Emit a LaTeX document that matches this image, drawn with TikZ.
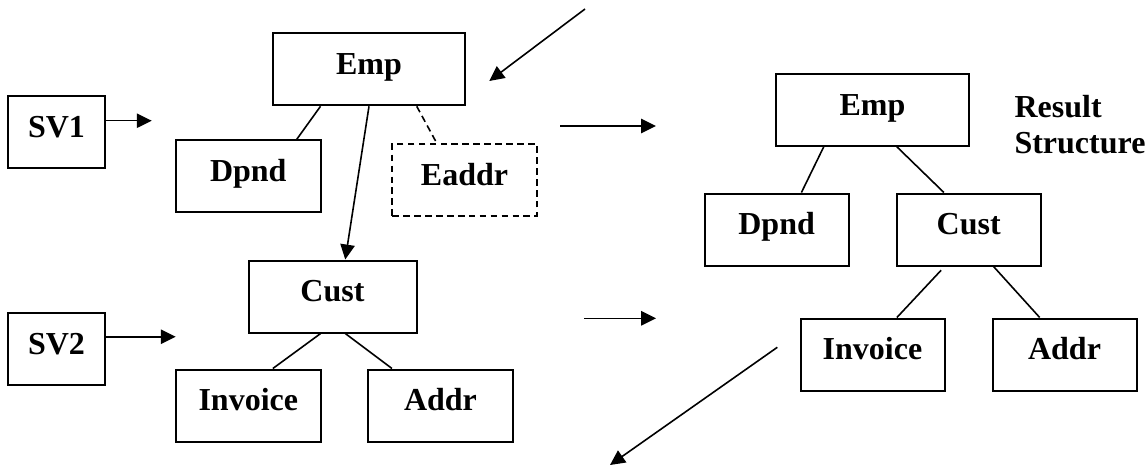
\documentclass[tikz,border=0pt]{standalone}
\usepackage{fontspec}
\setmainfont{Liberation Serif}
\usepackage{tikz}
\usetikzlibrary{arrows.meta,calc}
\newcommand\boxfont{\fontsize{12}{13.5}\selectfont\bfseries}
\tikzset{
  box/.style={draw,line width=0.75pt,minimum width=#1,minimum height=27pt,inner sep=0pt,text height=0.7em,text depth=0.3em,font=\boxfont},
  box/.default=54pt,
  dbox/.style={box=#1,dash pattern=on 2.5pt off 1.6pt},
  link/.style={line width=0.6pt},
  dlink/.style={link,dash pattern=on 2.5pt off 1.6pt},
  arrow/.style={-{Triangle[length=5.6pt,width=5.4pt]},line width=0.6pt},
  lbl/.style={font=\boxfont,align=left,inner sep=0pt},
}
\begin{document}
\begin{tikzpicture}[x=0.375pt,y=-0.375pt]
    \useasboundingbox (0,0) rectangle (1148,467);
    \node[box=36.4pt] (sv1) at (56.5,132) {SV1};
    \node[box=36.4pt] (sv2) at (56.5,349) {SV2};
    \node[box=72pt] (emp) at (369,69.3) {Emp};
    \node[box=54.4pt] (dpnd) at (248.3,176.2) {Dpnd};
    \node[dbox=54.2pt] (eaddr) at (464.5,180) {Eaddr};
    \node[box=63pt] (cust) at (332.5,296.5) {Cust};
    \node[box=54.4pt] (inv) at (248.3,405.5) {Invoice};
    \node[box=54.4pt] (addr) at (440.5,405.5) {Addr};
    % result structure
    \node[box=72.4pt] (remp) at (872.5,109.8) {Emp};
    \node[box] (rdpnd) at (776.6,229.5) {Dpnd};
    \node[box] (rcust) at (968.7,229.5) {Cust};
    \node[box] (rinv) at (872.5,354.5) {Invoice};
    \node[box] (raddr) at (1064.5,354.5) {Addr};
    \node[lbl,anchor=north west] (res) at (1014,94.5) {Result\\Structure};
    \foreach \a/\fa/\b/\fb in {emp/.25/dpnd/.83,cust/.43/inv/.667,cust/.575/addr/.17,remp/.25/rdpnd/.67,remp/.625/rcust/.33,rcust/.67/raddr/.33}
      \draw[link] ($(\a.south west)!\fa!(\a.south east)$) -- ($(\b.north west)!\fb!(\b.north east)$);
    \draw[link,shorten <=1.9pt] ($(rcust.south west)!.335!(rcust.south east)$) -- ($(rinv.north west)!.667!(rinv.north east)$);
    \draw[dlink] ($(emp.south west)!.746!(emp.south east)$) -- ($(eaddr.north west)!.31!(eaddr.north east)$);
    \draw[arrow] (emp.south) -- ($(cust.north west)!.575!(cust.north east)$);
    % free arrows
    \coordinate (sv1in) at (151.7,120.7);
    \coordinate (sv2in) at (175.7,336.7);
    \coordinate (topfrom) at (585,9);
    \coordinate (topto) at (489.3,81);
    \coordinate (midfrom) at (560,126);
    \coordinate (midto) at (656,126);
    \coordinate (lowfrom) at (584,318.3);
    \coordinate (lowto) at (656,318.3);
    \coordinate (botfrom) at (777.3,347.3);
    \coordinate (botto) at (610,465);
    \draw[arrow] (sv1.east |- sv1in) -- (sv1in);
    \draw[arrow] (sv2.east |- sv2in) -- (sv2in);
    \foreach \x/\y in {topfrom/topto,midfrom/midto,lowfrom/lowto,botfrom/botto} \draw[arrow] (\x) -- (\y);
\end{tikzpicture}
\end{document}
